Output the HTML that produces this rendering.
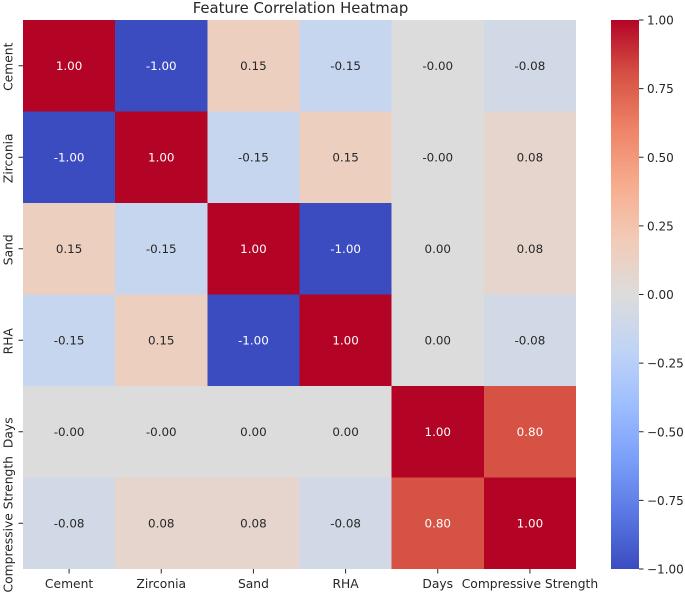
<!DOCTYPE html>
<html>
<head>
<meta charset="utf-8">
<title>Feature Correlation Heatmap</title>
<style>
html,body{margin:0;padding:0;background:#fff;width:685px;height:595px;overflow:hidden}
svg{display:block}
text{font-family:"DejaVu Sans","Liberation Sans",sans-serif;fill:#262626}
</style>
</head>
<body>
<svg id="chart" xmlns="http://www.w3.org/2000/svg" width="685" height="595" viewBox="0 0 685 595">
<text x="300.5" y="13" text-anchor="middle" font-size="14.85">Feature Correlation Heatmap</text>
<g id="cells"></g>
<g id="annots"></g>
<g id="xaxis"></g>
<g id="yaxis"></g>
<g id="cbar"></g>
</svg>
<script>
const categories = ["Cement","Zirconia","Sand","RHA","Days","Compressive Strength"];
const rowCement = [1.00,-1.00,0.15,-0.15,-0.001,-0.08];
const rowZirconia = [-1.00,1.00,-0.15,0.15,-0.001,0.08];
const rowSand = [0.15,-0.15,1.00,-1.00,0.001,0.08];
const rowRHA = [-0.15,0.15,-1.00,1.00,0.001,-0.08];
const rowDays = [-0.001,-0.001,0.001,0.001,1.00,0.80];
const rowStrength = [-0.08,0.08,0.08,-0.08,0.80,1.00];
const matrix = [rowCement,rowZirconia,rowSand,rowRHA,rowDays,rowStrength];
const colorbarTicks = [1.00,0.75,0.50,0.25,0.00,-0.25,-0.50,-0.75,-1.00];
const coolwarmStops = ["#3b4cc0","#5977e3","#7b9ff9","#9ebeff","#c0d4f5","#dddcdc","#f2cbb7","#f7ac8e","#ee8468","#d65244","#b40426"];

const NS = "http://www.w3.org/2000/svg";
const plot = {left:23,right:576,top:20,bottom:569};
const bar = {left:611,right:639,top:20,bottom:569};
const vMin = -1, vMax = 1;

function hexToRgb(h){return [1,3,5].map(i=>parseInt(h.substr(i,2),16));}
function colorScale(v){
  const t = Math.max(0,Math.min(1,(v-vMin)/(vMax-vMin)))*(coolwarmStops.length-1);
  const i = Math.min(Math.floor(t),coolwarmStops.length-2);
  const a = hexToRgb(coolwarmStops[i]), b = hexToRgb(coolwarmStops[i+1]), f = t-i;
  return a.map((c,k)=>c+(b[k]-c)*f);
}
function css(rgb){return "rgb("+rgb.map(Math.round).join(",")+")";}
function xBand(i){return plot.left+(plot.right-plot.left)*i/categories.length;}
function yBand(i){return plot.top+(plot.bottom-plot.top)*i/categories.length;}
function yBar(v){return bar.bottom-(bar.bottom-bar.top)*(v-vMin)/(vMax-vMin);}
function lum(rgb){
  const l = rgb.map(c=>{c/=255;return c<=0.03928?c/12.92:Math.pow((c+0.055)/1.055,2.4);});
  return 0.2126*l[0]+0.7152*l[1]+0.0722*l[2];
}
function mk(tag,attrs,parent,txt){
  const e = document.createElementNS(NS,tag);
  for(const k in attrs) e.setAttribute(k,attrs[k]);
  if(txt!==undefined) e.textContent = txt;
  parent.appendChild(e);
  return e;
}

const cellsG = document.getElementById("cells");
const annotsG = document.getElementById("annots");
const xG = document.getElementById("xaxis");
const yG = document.getElementById("yaxis");
const cbG = document.getElementById("cbar");

matrix.forEach((row,r)=>{
  row.forEach((v,c)=>{
    const col = colorScale(v);
    const x0 = xBand(c), x1 = xBand(c+1), y0 = yBand(r), y1 = yBand(r+1);
    const cell = mk("rect",{x:x0,y:y0,width:x1-x0,height:y1-y0,fill:css(col),"shape-rendering":"crispEdges"},cellsG);
    
    
    const t = mk("text",{x:(x0+x1)/2,y:(y0+y1)/2+4.4,"text-anchor":"middle","font-size":"11.9",style:"fill:"+(lum(col)<0.408?"#ffffff":"#262626")},annotsG,v.toFixed(2));
    
    
  });
});

categories.forEach((name,i)=>{
  const cx = (xBand(i)+xBand(i+1))/2;
  const tx = mk("line",{x1:cx,x2:cx,y1:plot.bottom,y2:plot.bottom+4.5,stroke:"#262626","stroke-width":"1"},xG);
  
  
  const lx = mk("text",{x:cx,y:588,"text-anchor":"middle","font-size":"12.3"},xG,name);
  
  
  const cy = (yBand(i)+yBand(i+1))/2;
  const ty = mk("line",{x1:plot.left-4.5,x2:plot.left,y1:cy,y2:cy,stroke:"#262626","stroke-width":"1"},yG);
  
  
  const ly = mk("text",{x:0,y:0,"text-anchor":"middle","font-size":"12.3",transform:"translate(12.5 "+(cy+1)+") rotate(-90)"},yG,name);
  
  
});

const defs = mk("defs",{},cbG);
const grad = mk("linearGradient",{id:"cbgrad",x1:"0",y1:"1",x2:"0",y2:"0"},defs);
coolwarmStops.forEach((c,i)=>{
  mk("stop",{offset:i/(coolwarmStops.length-1),"stop-color":c},grad);
});
const barRect = mk("rect",{x:bar.left,y:bar.top,width:bar.right-bar.left,height:bar.bottom-bar.top,fill:"url(#cbgrad)"},cbG);


colorbarTicks.forEach(v=>{
  const y = yBar(v);
  const t = mk("line",{x1:bar.right,x2:bar.right+4.5,y1:y,y2:y,stroke:"#262626","stroke-width":"1"},cbG);
  
  
  const l = mk("text",{x:bar.right+8,y:y+4.6,"font-size":"12"},cbG,v.toFixed(2).replace("-","\u2212"));
  
  
});
</script>
</body>
</html>
